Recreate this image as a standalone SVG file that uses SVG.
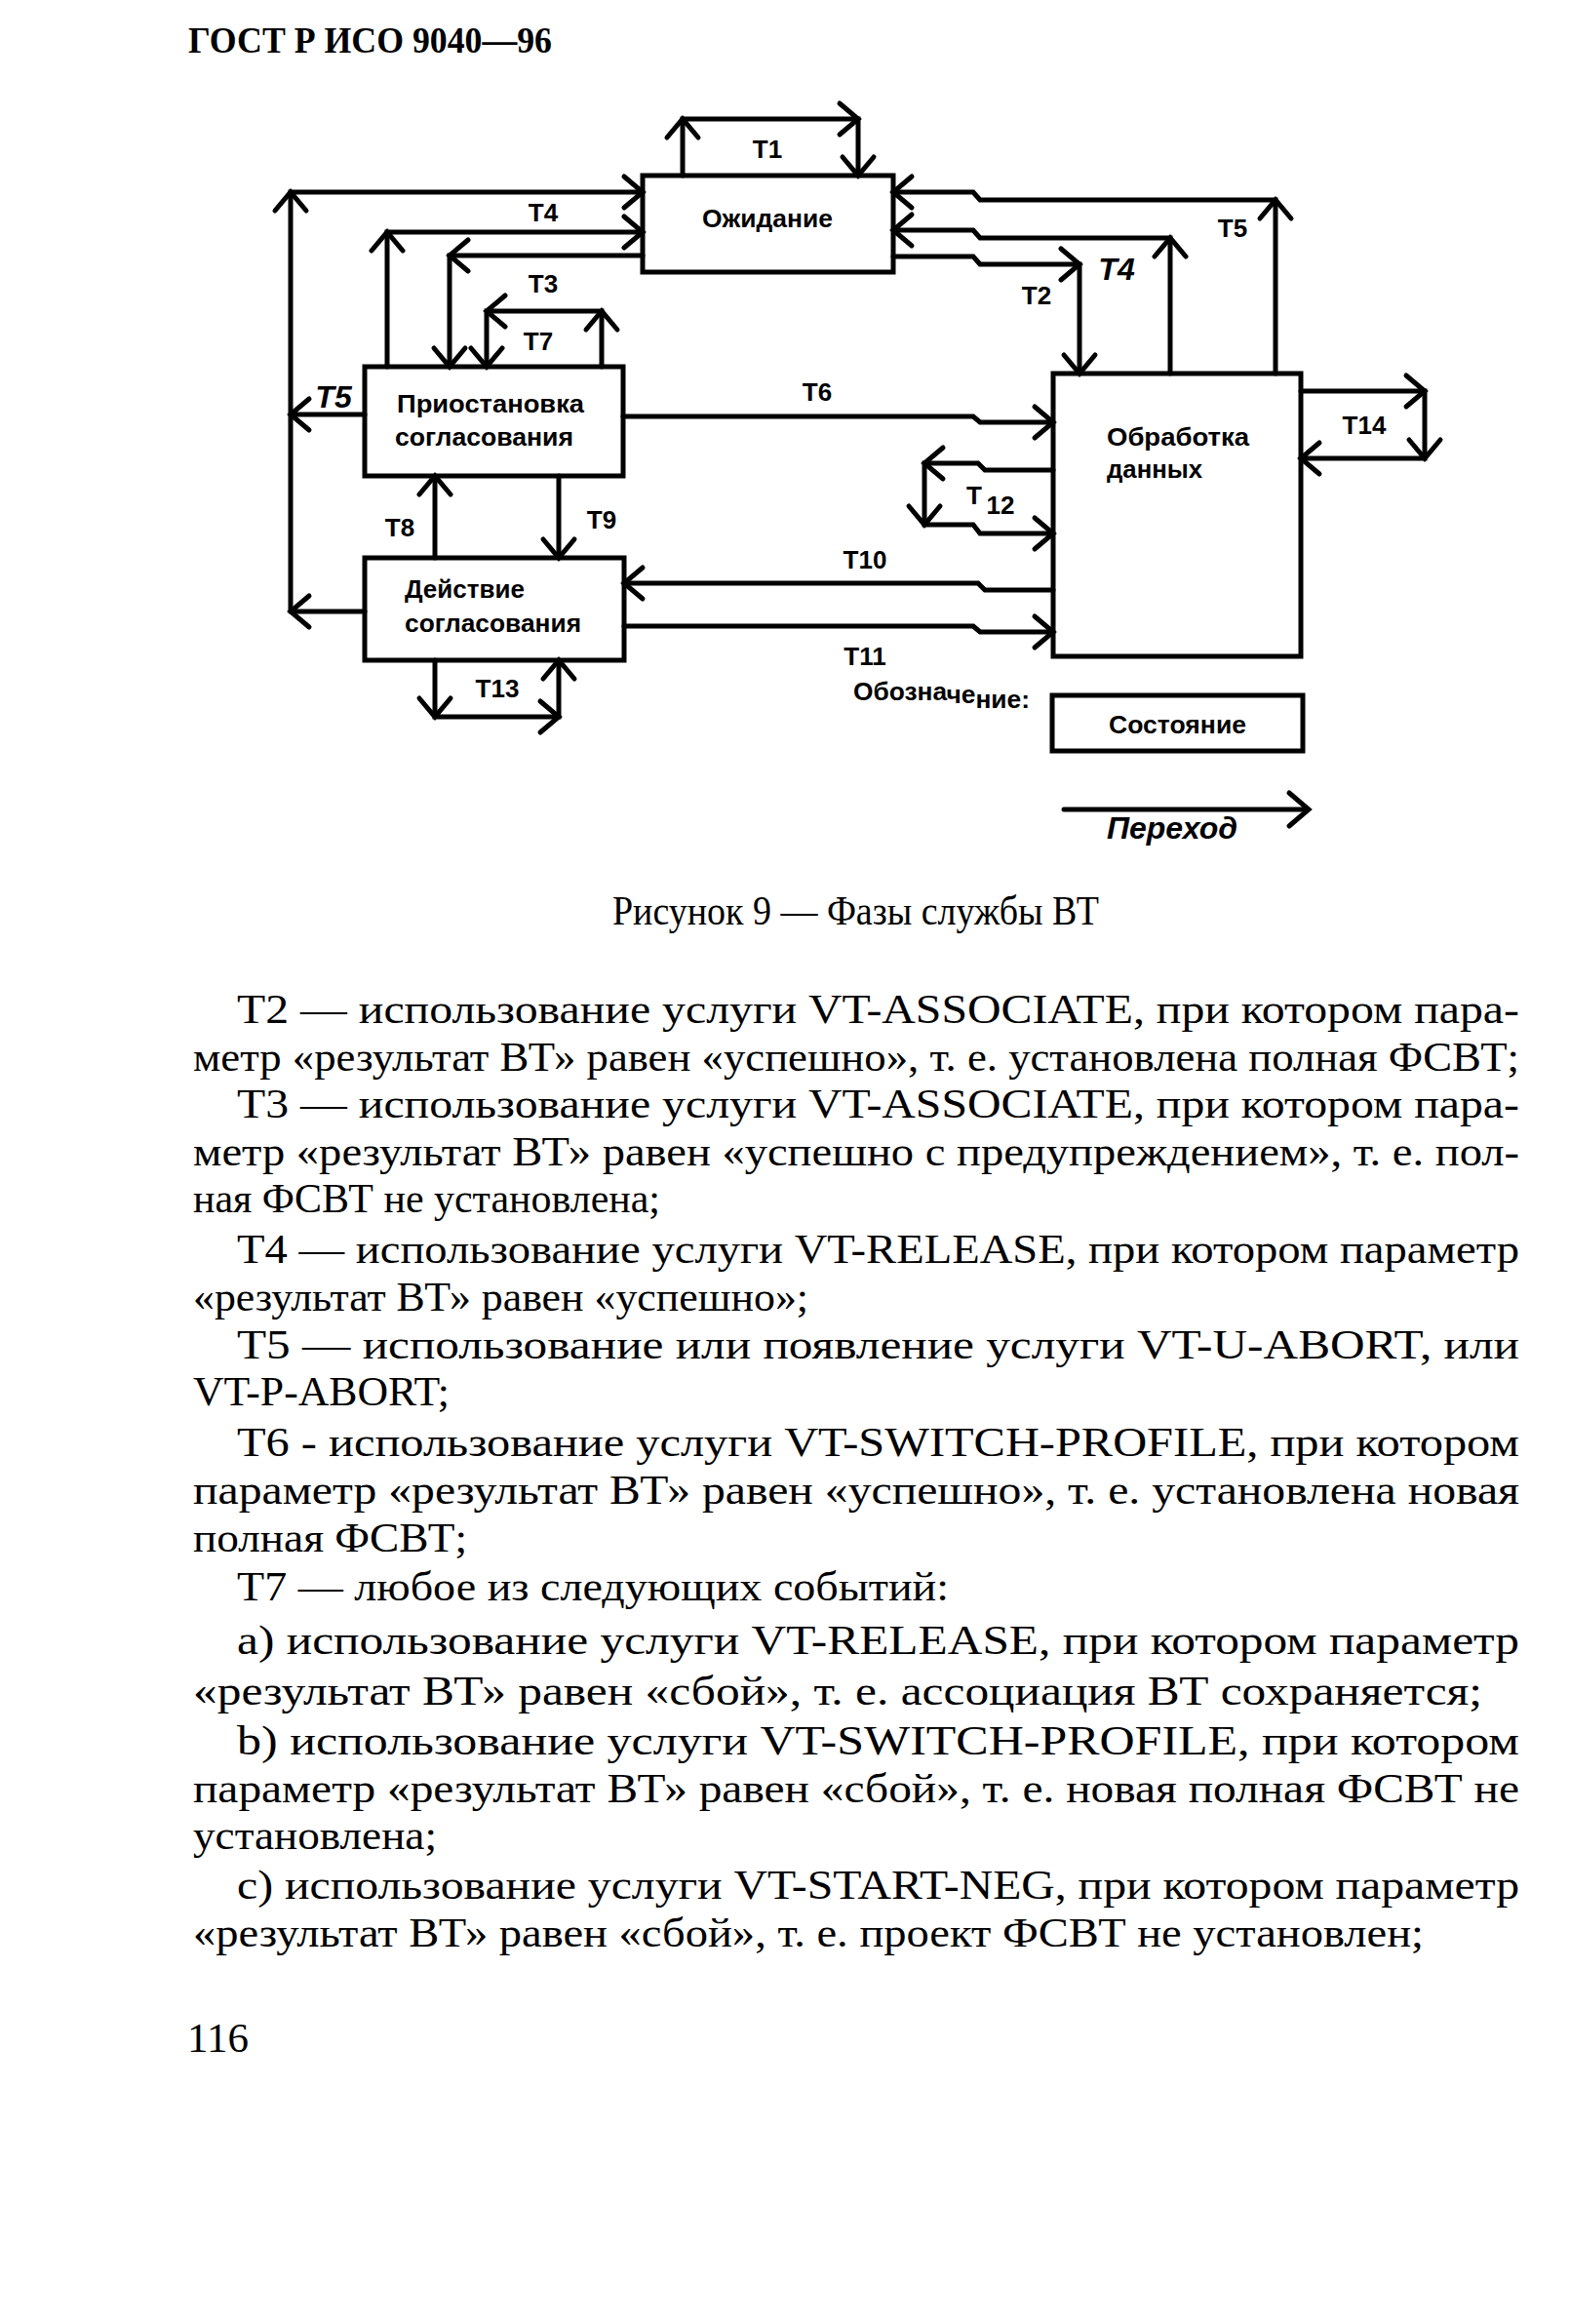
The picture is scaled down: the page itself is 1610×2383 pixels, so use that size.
<svg xmlns="http://www.w3.org/2000/svg" xmlns:xlink="http://www.w3.org/1999/xlink" width="1610" height="2383" viewBox="0 0 1610 2383">
<defs>
<style>
.box{fill:none;stroke:#000;stroke-width:5}
.ln{fill:none;stroke:#000;stroke-width:5;stroke-linejoin:miter;stroke-linecap:round}
.ah{fill:none;stroke:#000;stroke-width:5;stroke-linecap:round;stroke-linejoin:miter}
.lbl{font-family:"Liberation Sans",Arial,sans-serif;font-size:26px;font-weight:bold;fill:#000;text-anchor:middle}
.ntx{font-family:"Liberation Sans",Arial,sans-serif;font-size:25px;font-weight:bold;fill:#000}
.hand{font-family:"Liberation Sans",Arial,sans-serif;font-style:italic;font-weight:bold;font-size:32px;fill:#000;text-anchor:middle}
.body{font-family:"Liberation Serif","Times New Roman",serif;font-size:43px;fill:#000}
.hdr{font-family:"Liberation Serif","Times New Roman",serif;font-size:38px;font-weight:bold;fill:#000}
</style>
<path id="ah" class="ah" d="M-19,-16 L0,0 L-19,16"/>
</defs>
<rect x="0" y="0" width="1610" height="2383" fill="#fff"/>

<text class="hdr" x="193" y="54" textLength="373" lengthAdjust="spacingAndGlyphs">ГОСТ Р ИСО 9040—96</text>

<g id="node-ozhidanie">
<rect class="box" x="659" y="180" width="257" height="99"/>
<text class="ntx" x="720" y="233" textLength="134" lengthAdjust="spacingAndGlyphs">Ожидание</text>
</g>
<g id="node-priostanovka">
<rect class="box" x="374" y="376" width="265" height="112"/>
<text class="ntx" x="407" y="423" textLength="192" lengthAdjust="spacingAndGlyphs">Приостановка</text>
<text class="ntx" x="405" y="457" textLength="183" lengthAdjust="spacingAndGlyphs">согласования</text>
</g>
<g id="node-deistvie">
<rect class="box" x="374" y="572" width="266" height="105"/>
<text class="ntx" x="415" y="613" textLength="123" lengthAdjust="spacingAndGlyphs">Действие</text>
<text class="ntx" x="415" y="648" textLength="181" lengthAdjust="spacingAndGlyphs">согласования</text>
</g>
<g id="node-obrabotka">
<rect class="box" x="1080" y="383" width="254" height="290"/>
<text class="ntx" x="1135" y="457" textLength="146" lengthAdjust="spacingAndGlyphs">Обработка</text>
<text class="ntx" x="1135" y="490" textLength="98" lengthAdjust="spacingAndGlyphs">данных</text>
</g>

<g id="connectors">
<path class="ln" d="M659,197 H298 V627"/>
<path class="ln" d="M374,425 H298"/>
<path class="ln" d="M374,627 H298"/>
<use href="#ah" transform="translate(659,197)"/>
<use href="#ah" transform="translate(298,197) rotate(-90)"/>
<use href="#ah" transform="translate(298,425) rotate(180)"/>
<use href="#ah" transform="translate(298,627) rotate(180)"/>

<path class="ln" d="M397,376 V238 H659"/>
<use href="#ah" transform="translate(397,238) rotate(-90)"/>
<use href="#ah" transform="translate(659,238)"/>

<path class="ln" d="M659,262 H461 V376"/>
<use href="#ah" transform="translate(461,262) rotate(180)"/>
<use href="#ah" transform="translate(461,376) rotate(90)"/>

<path class="ln" d="M617,376 V319 H499 V376"/>
<use href="#ah" transform="translate(617,319) rotate(-90)"/>
<use href="#ah" transform="translate(499,319) rotate(180)"/>
<use href="#ah" transform="translate(499,376) rotate(90)"/>

<path class="ln" d="M700,180 V122 H880 V180"/>
<use href="#ah" transform="translate(700,122) rotate(-90)"/>
<use href="#ah" transform="translate(880,122)"/>
<use href="#ah" transform="translate(880,180) rotate(90)"/>

<path class="ln" d="M1308,383 V205 H1005 L998,197 H916"/>
<use href="#ah" transform="translate(1308,205) rotate(-90)"/>
<use href="#ah" transform="translate(916,197) rotate(180)"/>

<path class="ln" d="M1200,383 V244 H1005 L998,236 H916"/>
<use href="#ah" transform="translate(1200,244) rotate(-90)"/>
<use href="#ah" transform="translate(916,236) rotate(180)"/>

<path class="ln" d="M916,263 H998 L1005,271 H1107 V383"/>
<use href="#ah" transform="translate(1107,271)"/>
<use href="#ah" transform="translate(1107,383) rotate(90)"/>

<path class="ln" d="M639,427 H998 L1005,433 H1080"/>
<use href="#ah" transform="translate(1080,433)"/>

<path class="ln" d="M1334,401 H1461 V470 H1334"/>
<use href="#ah" transform="translate(1461,401)"/>
<use href="#ah" transform="translate(1461,470) rotate(90)"/>
<use href="#ah" transform="translate(1334,470) rotate(180)"/>

<path class="ln" d="M1080,482 H1010 L1003,475 H948 V538 H998 L1005,547 H1080"/>
<use href="#ah" transform="translate(948,475) rotate(180)"/>
<use href="#ah" transform="translate(948,538) rotate(90)"/>
<use href="#ah" transform="translate(1080,547)"/>

<path class="ln" d="M446,572 V488"/>
<use href="#ah" transform="translate(446,488) rotate(-90)"/>
<path class="ln" d="M573,488 V572"/>
<use href="#ah" transform="translate(573,572) rotate(90)"/>

<path class="ln" d="M1080,605 H1010 L1003,598 H640"/>
<use href="#ah" transform="translate(640,598) rotate(180)"/>
<path class="ln" d="M640,642 H998 L1005,648 H1080"/>
<use href="#ah" transform="translate(1080,648)"/>

<path class="ln" d="M446,677 V735 H573 V677"/>
<use href="#ah" transform="translate(446,735) rotate(90)"/>
<use href="#ah" transform="translate(573,735)"/>
<use href="#ah" transform="translate(573,677) rotate(-90)"/>
</g>

<g id="labels">
<text class="lbl" x="787" y="162">T1</text>
<text class="lbl" x="557" y="227">T4</text>
<text class="lbl" x="557" y="300">T3</text>
<text class="lbl" x="552" y="359">T7</text>
<text class="hand" x="342" y="418">T5</text>
<text class="lbl" x="838" y="411">T6</text>
<text class="lbl" x="1063" y="312">T2</text>
<text class="hand" x="1145" y="287" font-size="34">T4</text>
<text class="lbl" x="1264" y="243">T5</text>
<text class="lbl" x="1399" y="445">T14</text>
<text class="lbl" x="999" y="517">T</text>
<text class="lbl" x="1026" y="527">12</text>
<text class="lbl" x="410" y="550">T8</text>
<text class="lbl" x="617" y="542">T9</text>
<text class="lbl" x="887" y="583">T10</text>
<text class="lbl" x="887" y="682">T11</text>
<text class="lbl" x="510" y="715">T13</text>
</g>

<g id="legend">
<text class="ntx" x="875" y="718" textLength="181" lengthAdjust="spacingAndGlyphs">Обозна<tspan dy="3">че</tspan><tspan dy="5">ние:</tspan></text>
<g id="legend-state">
<rect class="box" x="1079" y="713" width="257" height="57"/>
<text class="ntx" x="1137" y="752" textLength="141" lengthAdjust="spacingAndGlyphs">Состояние</text>
</g>
<g id="legend-transition">
<path class="ln" d="M1091,830 H1340"/>
<path class="ah" d="M1322,813 L1342,830 L1322,847"/>
<text class="hand" x="1202" y="860" font-size="30">Переход</text>
</g>
</g>

<text class="body" x="628" y="948" font-size="35" textLength="499" lengthAdjust="spacingAndGlyphs">Рисунок 9 — Фазы службы ВТ</text>

<g id="body-text">
<text class="body" x="243" y="1049" textLength="1315" lengthAdjust="spacingAndGlyphs">Т2 — использование услуги VT-ASSOCIATE, при котором пара-</text>
<text class="body" x="198" y="1098" textLength="1360" lengthAdjust="spacingAndGlyphs">метр «результат ВТ» равен «успешно», т. е. установлена полная ФСВТ;</text>
<text class="body" x="243" y="1146" textLength="1315" lengthAdjust="spacingAndGlyphs">Т3 — использование услуги VT-ASSOCIATE, при котором пара-</text>
<text class="body" x="198" y="1195" textLength="1360" lengthAdjust="spacingAndGlyphs">метр «результат ВТ» равен «успешно с предупреждением», т. е. пол-</text>
<text class="body" x="198" y="1243" textLength="479" lengthAdjust="spacingAndGlyphs">ная ФСВТ не установлена;</text>
<text class="body" x="243" y="1295" textLength="1315" lengthAdjust="spacingAndGlyphs">Т4 — использование услуги VT-RELEASE, при котором параметр</text>
<text class="body" x="198" y="1344" textLength="631" lengthAdjust="spacingAndGlyphs">«результат ВТ» равен «успешно»;</text>
<text class="body" x="243" y="1393" textLength="1315" lengthAdjust="spacingAndGlyphs">Т5 — использование или появление услуги VT-U-ABORT, или</text>
<text class="body" x="198" y="1441" textLength="263" lengthAdjust="spacingAndGlyphs">VT-P-ABORT;</text>
<text class="body" x="243" y="1493" textLength="1315" lengthAdjust="spacingAndGlyphs">Т6 - использование услуги VT-SWITCH-PROFILE, при котором</text>
<text class="body" x="198" y="1542" textLength="1360" lengthAdjust="spacingAndGlyphs">параметр «результат ВТ» равен «успешно», т. е. установлена новая</text>
<text class="body" x="198" y="1591" textLength="281" lengthAdjust="spacingAndGlyphs">полная ФСВТ;</text>
<text class="body" x="243" y="1641" textLength="730" lengthAdjust="spacingAndGlyphs">Т7 — любое из следующих событий:</text>
<text class="body" x="243" y="1696" textLength="1315" lengthAdjust="spacingAndGlyphs">а) использование услуги VT-RELEASE, при котором параметр</text>
<text class="body" x="198" y="1748" textLength="1322" lengthAdjust="spacingAndGlyphs">«результат ВТ» равен «сбой», т. е. ассоциация ВТ сохраняется;</text>
<text class="body" x="243" y="1799" textLength="1315" lengthAdjust="spacingAndGlyphs">b) использование услуги VT-SWITCH-PROFILE, при котором</text>
<text class="body" x="198" y="1848" textLength="1360" lengthAdjust="spacingAndGlyphs">параметр «результат ВТ» равен «сбой», т. е. новая полная ФСВТ не</text>
<text class="body" x="198" y="1896" textLength="250" lengthAdjust="spacingAndGlyphs">установлена;</text>
<text class="body" x="243" y="1947" textLength="1315" lengthAdjust="spacingAndGlyphs">с) использование услуги VT-START-NEG, при котором параметр</text>
<text class="body" x="198" y="1996" textLength="1262" lengthAdjust="spacingAndGlyphs">«результат ВТ» равен «сбой», т. е. проект ФСВТ не установлен;</text>
</g>

<text class="body" x="192" y="2104" font-size="32">116</text>
</svg>
